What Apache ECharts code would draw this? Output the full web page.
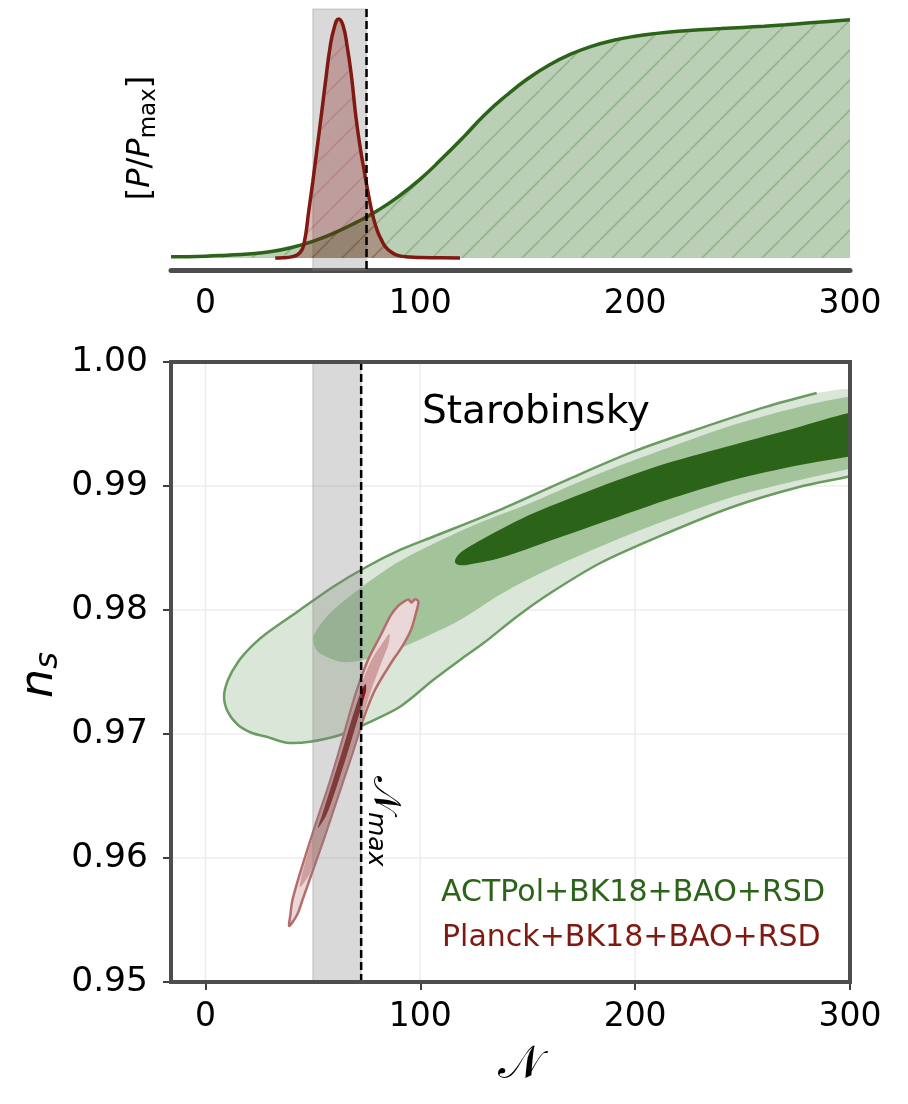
<!DOCTYPE html>
<html>
<head>
<meta charset="utf-8">
<script src="https://cdn.jsdelivr.net/npm/echarts@6/dist/echarts.min.js"></script>
<style>
  html, body { margin: 0; padding: 0; background: #fff; }
  #chart { width: 908px; height: 1104px; }
</style>
</head>
<body>
<div id="chart"></div>
<script>
// 1. data: 1D marginal of N (top panel)
const greenN = [-16, 0, 10, 20, 30, 40, 50, 60, 70, 80, 90, 100, 110, 120, 130, 140, 150, 160, 170, 180, 190, 200, 210, 220, 230, 240, 250, 260, 270, 280, 290, 300];
const greenP = [0.005, 0.008, 0.012, 0.017, 0.026, 0.044, 0.07, 0.105, 0.148, 0.198, 0.258, 0.33, 0.415, 0.505, 0.6, 0.68, 0.75, 0.808, 0.853, 0.887, 0.911, 0.928, 0.94, 0.949, 0.955, 0.96, 0.965, 0.97, 0.976, 0.983, 0.99, 0.997];
const redN = [32.5, 36, 40, 44, 46, 48, 50, 52, 54, 56, 58, 60, 62, 64, 66, 68, 70, 72, 74, 76, 78, 80, 82, 84, 87, 90, 95, 100, 110, 118.5];
const redP = [0, 0.001, 0.005, 0.022, 0.065, 0.19, 0.32, 0.46, 0.6, 0.745, 0.88, 0.965, 1.0, 0.975, 0.885, 0.76, 0.595, 0.466, 0.36, 0.26, 0.175, 0.115, 0.075, 0.045, 0.022, 0.01, 0.004, 0.002, 0.001, 0];

// 2. data: 2D contours [N, n_s] (bottom panel)
const actOuter = [[284.5, 0.9975], [261.2, 0.9964], [230.2, 0.99465], [199.1, 0.99277], [168.1, 0.99048], [136.8, 0.98806], [106.0, 0.98591], [90.6, 0.98484], [75.1, 0.98349], [59.5, 0.98188], [44.0, 0.98], [28.5, 0.97812], [21.7, 0.9771], [15.2, 0.97581], [10.5, 0.97435], [8.7, 0.97301], [10.5, 0.97177], [15.2, 0.97073], [21.7, 0.97008], [28.5, 0.96978], [37.8, 0.9693], [48.7, 0.96938], [62.6, 0.96992], [75.1, 0.97086], [90.6, 0.9722], [106.0, 0.97435], [118.5, 0.97597], [129.3, 0.97731], [144.9, 0.97946], [160.4, 0.98135], [183.6, 0.98377], [214.7, 0.98619], [245.6, 0.98833], [276.7, 0.98994], [299.0, 0.99075], [306, 0.9911], [306, 0.9975]];
const actMid = [[306, 0.9973], [299.0, 0.9972], [276.7, 0.9964], [245.6, 0.99492], [214.7, 0.99304], [183.6, 0.99102], [152.6, 0.98873], [121.6, 0.98659], [90.6, 0.98395], [75.1, 0.98215], [59.5, 0.98], [53.3, 0.97879], [50.6, 0.978], [50.2, 0.97758], [51.0, 0.977], [53.3, 0.97651], [62.6, 0.97583], [71.9, 0.97591], [84.4, 0.97651], [98.3, 0.9775], [118.5, 0.97919], [136.8, 0.98121], [152.6, 0.98269], [183.6, 0.9851], [214.7, 0.98726], [245.6, 0.98914], [276.7, 0.99048], [299.0, 0.99135], [306, 0.9916]];
const actInner = [[306, 0.9959], [299.0, 0.99586], [276.7, 0.99478], [245.6, 0.99331], [214.7, 0.99183], [183.6, 0.98994], [152.6, 0.9878], [136.8, 0.98645], [121.6, 0.98498], [117.6, 0.98444], [116.1, 0.9839], [117.6, 0.98365], [121.6, 0.98363], [136.8, 0.98417], [152.6, 0.9851], [183.6, 0.98699], [214.7, 0.98887], [245.6, 0.99048], [276.7, 0.99169], [299.0, 0.99236], [306, 0.9926]];
const plkOuter = [[92.88, 0.98073], [94.51, 0.98085], [95.91, 0.9806], [97.53, 0.98086], [99.16, 0.98069], [97.77, 0.9796], [95.67, 0.97839], [91.48, 0.97702], [87.3, 0.97597], [78.92, 0.97355], [73.34, 0.97113], [68.92, 0.96871], [64.26, 0.96629], [59.61, 0.96387], [54.96, 0.96145], [50.07, 0.95903], [45.18, 0.95661], [42.62, 0.9554], [39.04, 0.95452], [39.55, 0.9554], [40.53, 0.95661], [44.49, 0.95903], [48.91, 0.96145], [53.56, 0.96387], [58.21, 0.96629], [62.4, 0.96871], [66.36, 0.97113], [70.54, 0.97355], [75.66, 0.97597], [81.62, 0.97798], [86.37, 0.9796], [89.62, 0.98032]];
const plkMid = [[85.67, 0.97806], [85.1, 0.97718], [82.4, 0.97597], [77.2, 0.97355], [72.8, 0.97113], [68.5, 0.96871], [63.8, 0.96629], [59.1, 0.96387], [52.7, 0.96065], [48.2, 0.95863], [44.02, 0.95766], [44.9, 0.95863], [48.1, 0.96065], [54.0, 0.96387], [58.7, 0.96629], [62.9, 0.96871], [67.1, 0.97113], [71.5, 0.97355], [77.3, 0.97597], [81.8, 0.97718]];
const plkInner = [[74.5, 0.97403], [74.83, 0.97355], [73.57, 0.97274], [70.78, 0.97113], [66.59, 0.96871], [60.59, 0.96548], [56.35, 0.96347], [52.4, 0.96242], [54.3, 0.96347], [57.98, 0.96548], [63.8, 0.96871], [67.99, 0.97113], [71.06, 0.97274], [72.78, 0.97355]];

// 3. axes / markers
const xTicks = [0, 100, 200, 300];
const topBand = [50, 75];
const mainBand = [50, 72.5];

const FONT = "DejaVu Sans";
const GREEN = "#2b6418";
const RED = "#7f1a12";

// hatch fill for the 1D areas
function hatch(bg, line) {
  const s = 30;
  const c = document.createElement("canvas");
  c.width = s; c.height = s;
  const g = c.getContext("2d");
  g.fillStyle = bg; g.fillRect(0, 0, s, s);
  g.strokeStyle = line; g.lineWidth = 1.6;
  g.beginPath(); g.moveTo(-2, s + 2); g.lineTo(s + 2, -2); g.stroke();
  return c;
}

function contour(pts, fill, z, stroke, openStroke) {
  return {
    type: "custom", xAxisIndex: 1, yAxisIndex: 1, z: z, silent: true, clip: true,
    data: pts,
    renderItem: function (params, api) {
      if (params.dataIndex !== 0) return null;
      const p = pts.map(d => api.coord(d));
      const kids = [{ type: "polygon", shape: { points: p, smooth: 0.3 }, style: { fill: fill } }];
      if (stroke) {
        kids.push({
          type: openStroke ? "polyline" : "polygon",
          shape: { points: openStroke ? p.slice(0, -1) : p, smooth: 0.3 },
          style: { fill: null, stroke: stroke, lineWidth: 2.5 }
        });
      }
      return { type: "group", children: kids };
    }
  };
}

function band(gi, range, z) {
  return {
    type: "custom", xAxisIndex: gi, yAxisIndex: gi, z: z, silent: true,
    data: [range], encode: { x: [0, 1] },
    renderItem: function (params, api) {
      const cs = params.coordSys;
      const x0 = api.coord([api.value(0), 0])[0];
      const x1 = api.coord([api.value(1), 0])[0];
      return {
        type: "rect",
        shape: { x: x0, y: cs.y, width: x1 - x0, height: cs.height },
        style: { fill: "rgba(128,128,128,0.3)", stroke: "rgba(128,128,128,0.25)", lineWidth: 1.5 }
      };
    }
  };
}

function vline(gi, xs, z, style) {
  return {
    type: "custom", xAxisIndex: gi, yAxisIndex: gi, z: z, silent: true,
    data: xs.map(v => [v]), encode: { x: 0 },
    renderItem: function (params, api) {
      const cs = params.coordSys;
      const x = api.coord([api.value(0), 0])[0];
      return { type: "line", shape: { x1: x, y1: cs.y, x2: x, y2: cs.y + cs.height }, style: style };
    }
  };
}

const chart = echarts.init(document.getElementById("chart"), null, { renderer: "canvas" });

const labelStyle = { fontFamily: FONT, fontSize: 33, color: "#000" };

chart.setOption({
  animation: false,
  backgroundColor: "#fff",
  grid: [
    { left: 171, top: 9, width: 679, height: 261 },
    { left: 171, top: 362, width: 679, height: 620 }
  ],
  xAxis: [
    {
      type: "value", gridIndex: 0, min: -16, max: 300,
      axisLine: { show: true, onZero: false, lineStyle: { color: "#4d4d4d", width: 5 } },
      axisTick: { show: false }, splitLine: { show: false },
      axisLabel: { ...labelStyle, customValues: xTicks, margin: 18 }
    },
    {
      type: "value", gridIndex: 1, min: -16, max: 300,
      axisLine: { show: true, onZero: false, lineStyle: { color: "#4d4d4d", width: 4 } },
      axisTick: { show: true, customValues: xTicks, length: 8, lineStyle: { color: "#000", width: 1.5 } },
      splitLine: { show: false },
      axisLabel: { ...labelStyle, customValues: xTicks, margin: 19 }
    }
  ],
  yAxis: [
    { type: "value", gridIndex: 0, min: -0.05, max: 1.042, show: false },
    {
      type: "value", gridIndex: 1, min: 0.95, max: 1.0, interval: 0.01,
      axisLine: { show: true, onZero: false, lineStyle: { color: "#4d4d4d", width: 4 } },
      axisTick: { show: true, length: 8, lineStyle: { color: "#000", width: 1.5 } },
      splitLine: { show: true, lineStyle: { color: "#ececec", width: 1.5 } },
      axisLabel: { ...labelStyle, fontSize: 34.5, margin: 23, formatter: v => v.toFixed(2) }
    }
  ],
  series: [
    // top panel
    band(0, topBand, 1),
    {
      type: "line", xAxisIndex: 0, yAxisIndex: 0, z: 2, silent: true,
      data: greenN.map((n, i) => [n, greenP[i]]),
      smooth: 0.5, showSymbol: false,
      lineStyle: { color: GREEN, width: 3.5 },
      areaStyle: { color: { image: hatch("rgba(45,110,30,0.33)", "rgba(45,110,30,0.28)"), repeat: "repeat" }, opacity: 1 }
    },
    {
      type: "line", xAxisIndex: 0, yAxisIndex: 0, z: 3, silent: true,
      data: redN.map((n, i) => [n, redP[i]]),
      smooth: 0.5, showSymbol: false,
      lineStyle: { color: RED, width: 3.5 },
      areaStyle: { color: { image: hatch("rgba(128,20,20,0.3)", "rgba(128,20,20,0.16)"), repeat: "repeat" }, opacity: 1 }
    },
    vline(0, [topBand[1]], 5, { stroke: "#000", lineWidth: 2.5, lineDash: [8, 4] }),

    // bottom panel
    vline(1, xTicks, 1, { stroke: "#ececec", lineWidth: 1.5 }),
    contour(actOuter, "#dae6d7", 2, "#6a9c62", true),
    contour(actMid, "#a3c49b", 3),
    contour(actInner, GREEN, 4),
    contour(plkOuter, "#ead7d7", 5, "#b46d6d", false),
    contour(plkMid, "#cf9f9f", 6),
    contour(plkInner, "#7e1c1c", 7),
    band(1, mainBand, 8),
    vline(1, [mainBand[1]], 9, { stroke: "#000", lineWidth: 2.5, lineDash: [8, 4] })
  ],
  graphic: [
    { type: "rect", z: 100, silent: true, shape: { x: 171, y: 362, width: 679, height: 620 },
      style: { fill: null, stroke: "#4d4d4d", lineWidth: 4 } },
    { type: "text", z: 100, x: 141, y: 138, rotation: Math.PI / 2,
      style: {
        text: "{a|[}{b|P}{a|/}{b|P}{c|max}{a|]}", align: "center", verticalAlign: "middle",
        rich: {
          a: { fontFamily: FONT, fontSize: 32, lineHeight: 40, fill: "#000" },
          b: { fontFamily: FONT, fontStyle: "italic", fontSize: 32, lineHeight: 40, fill: "#000" },
          c: { fontFamily: FONT, fontSize: 23, lineHeight: 18, verticalAlign: "bottom", fill: "#000" }
        }
      } },
    { type: "text", z: 100, x: 40, y: 675, rotation: Math.PI / 2,
      style: {
        text: "{i|n}{s|s}", align: "center", verticalAlign: "middle",
        rich: {
          i: { fontFamily: FONT, fontStyle: "italic", fontSize: 46, lineHeight: 50, fill: "#000" },
          s: { fontFamily: FONT, fontStyle: "italic", fontSize: 32, lineHeight: 24, verticalAlign: "bottom", fill: "#000" }
        }
      } },
    { type: "text", z: 100, x: 520, y: 1066,
      style: { text: "𝒩", fontFamily: FONT, fontSize: 46, fill: "#000", align: "center", verticalAlign: "middle" } },
    { type: "text", z: 100, x: 536, y: 413,
      style: { text: "Starobinsky", fontFamily: FONT, fontSize: 39, fill: "#000", align: "center", verticalAlign: "middle" } },
    { type: "text", z: 100, x: 384, y: 776, rotation: -Math.PI / 2,
      style: {
        text: "{n|𝒩}{s|max}", align: "left", verticalAlign: "middle",
        rich: {
          n: { fontFamily: FONT, fontSize: 38, lineHeight: 42, fill: "#000" },
          s: { fontFamily: FONT, fontStyle: "italic", fontSize: 25, lineHeight: 18, verticalAlign: "bottom", fill: "#000" }
        }
      } },
    { type: "text", z: 100, x: 441, y: 893,
      style: { text: "ACTPol+BK18+BAO+RSD", fontFamily: FONT, fontSize: 30, fill: GREEN, align: "left", verticalAlign: "middle" } },
    { type: "text", z: 100, x: 442, y: 938,
      style: { text: "Planck+BK18+BAO+RSD", fontFamily: FONT, fontSize: 30, fill: RED, align: "left", verticalAlign: "middle" } }
  ]
});
</script>
</body>
</html>
